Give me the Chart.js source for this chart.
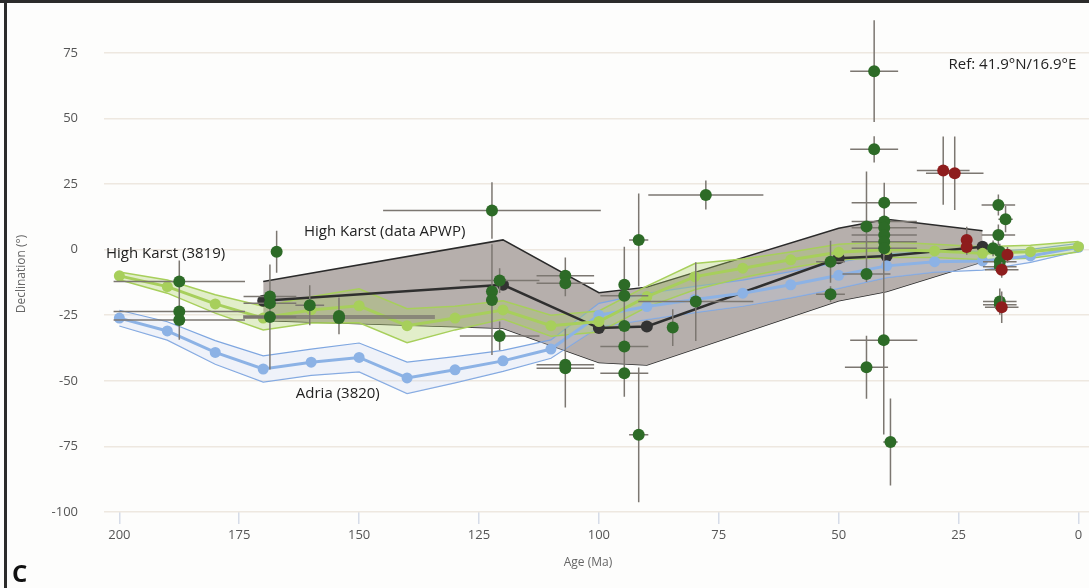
<!DOCTYPE html>
<html>
<head>
<meta charset="utf-8">
<script src="https://cdn.jsdelivr.net/npm/chart.js@4.4.1/dist/chart.umd.min.js"></script>
<style>
  html, body { margin: 0; padding: 0; background: #fdfdfc; }
  #wrap { position: relative; width: 1089px; height: 588px; overflow: hidden; }
  canvas { display: block; }
</style>
</head>
<body>
<div id="wrap"><canvas id="decl" width="1089" height="588"></canvas></div>
<script>
// ---- Reference curves (declination vs age), 10 Myr steps ----
const curveAges = [200, 190, 180, 170, 160, 150, 140, 130, 120, 110, 100, 90, 80, 70, 60, 50, 40, 30, 20, 10, 0];

// Adria (3820)
const adriaMean  = [-26.1, -31.0, -39.2, -45.5, -42.9, -41.1, -48.9, -45.8, -42.4, -37.9, -25.0, -21.7, -19.0, -16.6, -13.4, -9.8, -6.2, -4.6, -4.3, -2.4, 0.9];
const adriaUpper = [-23.1, -27.5, -34.7, -40.5, -37.9, -35.6, -42.9, -40.8, -38.4, -34.4, -20.5, -16.7, -14.0, -11.6, -8.4, -4.8, -1.7, -0.6, -0.8, 0.1, 2.4];
const adriaLower = [-29.1, -34.5, -43.7, -50.5, -47.9, -46.6, -54.9, -50.8, -46.4, -41.4, -29.5, -26.7, -24.0, -21.6, -18.4, -14.8, -10.7, -8.6, -7.8, -4.9, -0.6];

// High Karst (3819)
const karstMean  = [-10.0, -14.1, -20.7, -26.1, -23.0, -21.4, -29.0, -26.1, -23.0, -29.0, -27.4, -17.9, -10.3, -7.1, -3.9, -1.0, 0.0, -0.5, -1.4, -0.8, 1.1];
const karstUpper = [-8.5, -11.6, -17.2, -21.6, -18.0, -14.9, -22.5, -21.6, -19.5, -25.0, -23.4, -13.9, -5.3, -3.6, -0.9, 2.0, 3.0, 2.0, 1.1, 1.7, 3.1];
const karstLower = [-11.5, -16.6, -24.2, -30.6, -28.0, -27.9, -35.5, -30.6, -26.5, -33.0, -31.4, -21.9, -15.3, -10.6, -6.9, -4.0, -3.0, -3.0, -3.9, -3.3, -0.9];

// High Karst (data APWP)
const apwpAges  = [170, 120, 100, 90, 50, 40, 20];
const apwpMean  = [-19.5, -13.4, -29.9, -29.3, -3.3, -2.4, 1.1];
const apwpUpper = [-12.2, 3.7, -16.4, -14.3, 8.1, 11.6, 7.2];
const apwpLower = [-27.0, -30.0, -43.0, -44.0, -19.5, -16.0, -4.6];

// ---- Site data (age ± error, declination ± error) ----
const siteAge    = [187.5, 187.5, 187.5, 167.2, 168.6, 168.6, 168.6, 160.3, 154.2, 154.2,
                    122.3, 120.7, 122.3, 122.3, 120.7, 107, 107, 107, 107, 77.7,
                    91.7, 94.7, 94.7, 94.7, 94.7, 94.7, 91.7, 84.6, 79.8, 51.7,
                    51.7, 44.2, 44.2, 40.5, 40.5, 40.5, 40.5, 40.5, 40.5, 42.6,
                    42.6, 40.6, 44.2, 39.2, 16.7, 15.2, 16.7, 17.8, 16.4, 16.4,
                    16.4, 16.4, 16.4];
const siteDec    = [-12.2, -23.6, -26.8, -0.8, -17.9, -20.4, -25.7, -21.2, -25.3, -26.1,
                    14.9, -11.8, -16.0, -19.2, -32.9, -10.0, -12.8, -43.9, -45.2, 20.8,
                    3.7, -13.4, -17.6, -29.1, -36.9, -47.1, -70.6, -29.7, -19.8, -4.6,
                    -17.0, 8.8, -9.3, 17.9, 10.7, 8.3, 5.6, 3.0, 0.5, 68.0,
                    38.2, -34.5, -44.8, -73.3, 17.0, 11.6, 5.6, 0.5, -0.8, -4.6,
                    -6.5, -19.8, -21.0];
const siteAgeErr = [13.7, 13.7, 13.7, 0, 5.5, 5.5, 5.5, 3, 20, 20,
                    22.7, 8.3, 0, 0, 8.3, 6, 6, 6, 6, 12,
                    2, 0, 5, 0, 5, 5, 2, 0, 12, 3,
                    3, 0, 5, 6.8, 6.8, 6.8, 6.8, 6.8, 6.8, 5,
                    5, 7, 4.5, 1.5, 3.5, 1.5, 3.5, 0, 0, 3.5,
                    3.5, 3.5, 3.5];
const siteDecErr = [8, 5, 7.6, 8, 5, 5, 20, 7.6, 7, 5,
                    10.8, 4.7, 18, 21, 5.5, 7, 5, 5, 15, 5.5,
                    17.7, 14.5, 5, 6, 6, 9, 25.7, 7, 15, 8,
                    3, 21, 3, 7.6, 3, 3, 3, 3, 3, 19.4,
                    5, 36, 12, 16.6, 4, 5, 4, 3, 3, 3,
                    3, 5, 3];

const redAge    = [28.2, 25.8, 23.3, 23.3, 14.8, 16.0, 16.0];
const redDec    = [30.1, 29.1, 3.7, 1.0, -2.0, -7.7, -22.0];
const redAgeErr = [5.5, 6, 0, 0, 1, 3.5, 3.5];
const redDecErr = [13, 14, 5, 3, 3, 3, 6];

// Axis ticks and titles
const ageTicks = [200, 175, 150, 125, 100, 75, 50, 25, 0];
const decTicks = [-100, -75, -50, -25, 0, 25, 50, 75];
const ageTitle = 'Age (Ma)';
const decTitle = 'Declination (°)';

const toPoints = (xs, ys) => xs.map((x, i) => ({ x: x, y: ys[i] }));

// Error bars drawn just beneath the points of the datasets that carry them
const errorBars = {
  id: 'errorBars',
  beforeDatasetDraw(chart, args) {
    const ds = chart.data.datasets[args.index];
    if (!ds.ageErr) return;
    const xs = chart.scales.x, ys = chart.scales.y, ctx = chart.ctx;
    ctx.save();
    ctx.strokeStyle = '#7c7771';
    ctx.lineWidth = 1.5;
    ctx.beginPath();
    ds.data.forEach((p, i) => {
      const xe = ds.ageErr[i], ye = ds.decErr[i];
      const px = xs.getPixelForValue(p.x), py = ys.getPixelForValue(p.y);
      if (xe) {
        ctx.moveTo(xs.getPixelForValue(p.x + xe), py);
        ctx.lineTo(xs.getPixelForValue(p.x - xe), py);
      }
      if (ye) {
        ctx.moveTo(px, ys.getPixelForValue(p.y + ye));
        ctx.lineTo(px, ys.getPixelForValue(p.y - ye));
      }
    });
    ctx.stroke();
    ctx.restore();
  }
};

// Curve labels placed in data coordinates
const curveLabels = [
  { text: 'High Karst (3819)', age: 202.8, dec: -1.6 },
  { text: 'High Karst (data APWP)', age: 161.5, dec: 6.9 },
  { text: 'Adria (3820)', age: 163.2, dec: -55.0 },
  { text: 'Ref: 41.9°N/16.9°E', age: 27.1, dec: 70.3 }
];

const decorations = {
  id: 'decorations',
  beforeDraw(chart) {
    const ctx = chart.ctx;
    ctx.save();
    ctx.fillStyle = '#fdfdfc';
    ctx.fillRect(0, 0, chart.width, chart.height);
    ctx.restore();
  },
  afterDraw(chart) {
    const ctx = chart.ctx, xs = chart.scales.x, ys = chart.scales.y;
    ctx.save();
    ctx.fillStyle = '#222';
    ctx.font = '15px "Open Sans"';
    ctx.textBaseline = 'middle';
    ctx.textAlign = 'left';
    curveLabels.forEach(l => {
      ctx.fillText(l.text, xs.getPixelForValue(l.age), ys.getPixelForValue(l.dec));
    });

    // axis titles
    ctx.fillStyle = '#666';
    ctx.font = '12px "Open Sans"';
    ctx.textAlign = 'center';
    ctx.fillText(ageTitle, 588, 563);
    ctx.save();
    ctx.translate(22, 274);
    ctx.rotate(-Math.PI / 2);
    ctx.fillText(decTitle, 0, 0);
    ctx.restore();

    // panel letter
    ctx.fillStyle = '#111';
    ctx.font = 'bold 24px "Open Sans"';
    ctx.textAlign = 'left';
    ctx.textBaseline = 'alphabetic';
    ctx.fillText('C', 12, 582);

    // panel frame
    ctx.fillStyle = '#2b2b2b';
    ctx.fillRect(0, 0, chart.width, 3);
    ctx.fillRect(4, 0, 3, chart.height);
    ctx.restore();
  }
};

const ctx = document.getElementById('decl').getContext('2d');
new Chart(ctx, {
  type: 'line',
  data: {
    datasets: [
      {
        label: 'Sites (red)', data: toPoints(redAge, redDec), ageErr: redAgeErr, decErr: redDecErr,
        showLine: false, pointRadius: 6, pointBackgroundColor: '#8e1d1d', pointBorderWidth: 0
      },
      {
        label: 'Sites', data: toPoints(siteAge, siteDec), ageErr: siteAgeErr, decErr: siteDecErr,
        showLine: false, pointRadius: 6, pointBackgroundColor: '#2d6b27', pointBorderWidth: 0
      },
      {
        label: 'High Karst (3819)', data: toPoints(curveAges, karstMean),
        borderColor: '#a7cf5b', borderWidth: 3, pointRadius: 5.5,
        pointBackgroundColor: '#a7cf5b', pointBorderWidth: 0, fill: false
      },
      {
        label: 'Adria (3820)', data: toPoints(curveAges, adriaMean),
        borderColor: '#8cb2e5', borderWidth: 3, pointRadius: 5.5,
        pointBackgroundColor: '#8cb2e5', pointBorderWidth: 0, fill: false
      },
      {
        label: 'High Karst (data APWP)', data: toPoints(apwpAges, apwpMean),
        borderColor: '#2f2f2f', borderWidth: 2.5, pointRadius: 6,
        pointBackgroundColor: '#333333', pointBorderWidth: 0, fill: false
      },
      {
        label: 'High Karst upper', data: toPoints(curveAges, karstUpper),
        borderColor: '#a7cf5b', borderWidth: 1.5, pointRadius: 0,
        fill: '+1', backgroundColor: 'rgba(170,208,95,0.32)'
      },
      {
        label: 'High Karst lower', data: toPoints(curveAges, karstLower),
        borderColor: '#a7cf5b', borderWidth: 1.5, pointRadius: 0, fill: false
      },
      {
        label: 'Adria upper', data: toPoints(curveAges, adriaUpper),
        borderColor: '#7ea6e0', borderWidth: 1.2, pointRadius: 0,
        fill: '+1', backgroundColor: 'rgba(200,210,240,0.25)'
      },
      {
        label: 'Adria lower', data: toPoints(curveAges, adriaLower),
        borderColor: '#7ea6e0', borderWidth: 1.2, pointRadius: 0, fill: false
      },
      {
        label: 'APWP upper', data: toPoints(apwpAges, apwpUpper),
        borderColor: '#2a2a2a', borderWidth: 1.5, pointRadius: 0,
        fill: '+1', backgroundColor: '#b6afac'
      },
      {
        label: 'APWP lower', data: toPoints(apwpAges, apwpLower),
        borderColor: '#2a2a2a', borderWidth: 1.5, pointRadius: 0, fill: false
      }
    ]
  },
  options: {
    responsive: false,
    devicePixelRatio: 1,
    animation: false,
    events: [],
    layout: { autoPadding: false, padding: { top: 20, right: 0, bottom: 0, left: 0 } },
    plugins: {
      legend: { display: false },
      tooltip: { enabled: false },
      filler: { propagate: false }
    },
    elements: { line: { tension: 0 } },
    scales: {
      x: {
        type: 'linear',
        reverse: true,
        min: -2.2,
        max: 203.2,
        afterFit(scale) {
          scale.height = 76;
          scale.paddingLeft = 0; scale.paddingRight = 0;
          scale.paddingTop = 0; scale.paddingBottom = 0;
        },
        afterBuildTicks(scale) { scale.ticks = ageTicks.map(v => ({ value: v })); },
        grid: { drawOnChartArea: false, drawTicks: true, tickLength: 12, color: '#d6dce8', lineWidth: 1.5 },
        border: { display: false },
        ticks: { color: '#555', font: { family: 'Open Sans', size: 13 }, padding: 3, maxRotation: 0 },
        title: { display: false }
      },
      y: {
        type: 'linear',
        min: -100,
        max: 87.5,
        afterFit(scale) {
          scale.width = 104;
          scale.paddingLeft = 0; scale.paddingRight = 0;
          scale.paddingTop = 0; scale.paddingBottom = 0;
        },
        afterBuildTicks(scale) { scale.ticks = decTicks.map(v => ({ value: v })); },
        grid: { drawTicks: false, color: '#eee8e0', lineWidth: 1.5 },
        border: { display: false },
        ticks: { color: '#555', font: { family: 'Open Sans', size: 13 }, padding: 26 },
        title: { display: false }
      }
    }
  },
  plugins: [errorBars, decorations]
});
</script>
</body>
</html>
